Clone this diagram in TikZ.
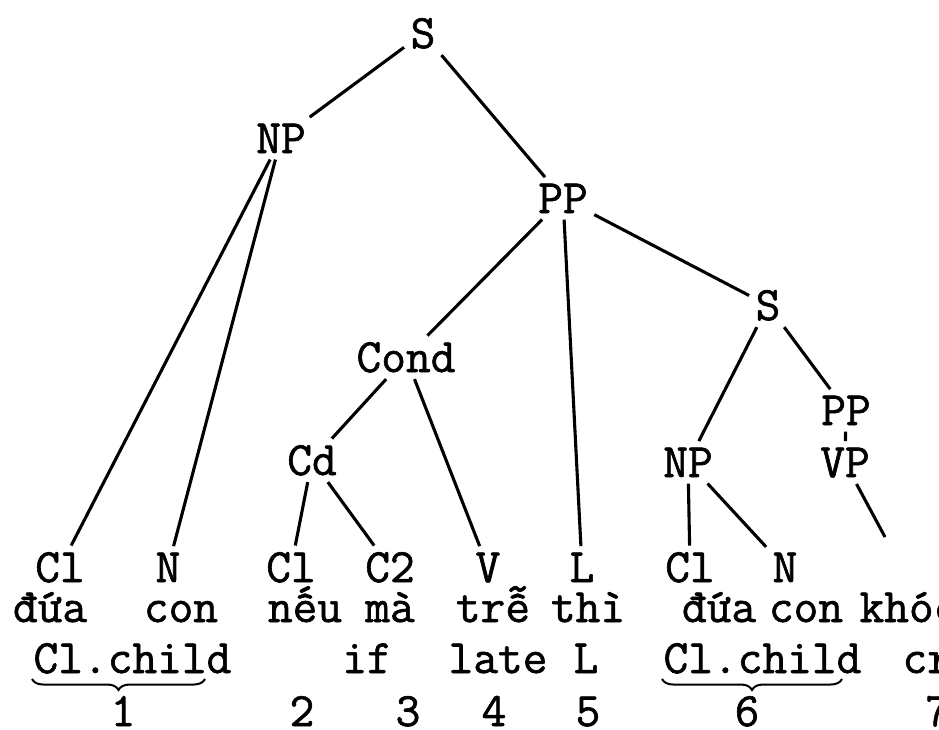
\documentclass[tikz,border=0pt]{standalone}
\usepackage{fontspec}
\newfontfamily\typew{Latin Modern Mono}[FakeBold=1.3]
\usetikzlibrary{decorations.pathreplacing}
\begin{document}
\begin{tikzpicture}[x=1pt,y=-1pt,line width=3.1pt,
		lbl/.style={font=\typew\fontsize{48}{56}\selectfont,anchor=base,inner sep=5pt},
		brc/.style={decorate,decoration={brace,mirror,amplitude=11pt},line width=2pt}]
		\useasboundingbox (0,0) rectangle (939,729);
		\clip (0,0) rectangle (939,729);
		% upper part of the tree
		\node[lbl] (s) at (423,48) {S};
		\node[lbl] (np) at (281,153) {NP};
		\node[lbl] (pp) at (563,213) {PP};
		\node[lbl] (ss) at (768,320) {S};
		\node[lbl] (cond) at (406,372) {Cond};
		\node[lbl] (ppb) at (846,425) {PP};
		\node[lbl] (cd) at (312,475) {Cd};
		\node[lbl] (npb) at (688,477) {NP};
		\node[lbl] (vp) at (845,477) {VP};
		
		% categories
		\node[lbl] (cla) at (60,582) {Cl};
		\node[lbl] (na) at (168,582) {N};
		\node[lbl] (clb) at (291,582) {Cl};
		\node[lbl] (ctwo) at (390,582) {C2};
		\node[lbl] (v) at (488,582) {V};
		\node[lbl] (l) at (582,582) {L};
		\node[lbl] (clc) at (690,582) {Cl};
		\node[lbl] (nc) at (785,582) {N};
		\coordinate (vend) at (885,537);
		
		% words
		\node[lbl] (wa) at (50,622) {đứa};
		\node[lbl] (wb) at (181,622) {con};
		\node[lbl] (wc) at (305,622) {nếu};
		\node[lbl] (wd) at (390,622) {mà};
		\node[lbl] (we) at (493,622) {trễ};
		\node[lbl] (wf) at (588,622) {thì};
		\node[lbl] (wg) at (719,622) {đứa};
		\node[lbl] (wh) at (806,622) {con};
		\node[lbl,anchor=base west] (wi) at (853,622) {khóc};
		
		% glosses
		\node[lbl,anchor=base west] (ga) at (27,673) {Cl.child};
		\node[lbl] (gb) at (367,673) {if};
		\node[lbl] (gc) at (498,673) {late};
		\node[lbl] (gd) at (586,673) {L};
		\node[lbl,anchor=base west] (ge) at (657,673) {Cl.child};
		\node[lbl,anchor=base west] (gf) at (896,673) {cry};
		
		\coordinate (bal) at (32,679);
		\coordinate (bar) at (205,679);
		\coordinate (bbl) at (662,679);
		\coordinate (bbr) at (842,679);
		\draw[brc] (bal)--(bar);
		\draw[brc] (bbl)--(bbr);
		
		% numbers
		\node[lbl] (ka) at (123,726) {1};
		\node[lbl] (kb) at (302,726) {2};
		\node[lbl] (kc) at (408,726) {3};
		\node[lbl] (kd) at (494,726) {4};
		\node[lbl] (ke) at (588,726) {5};
		\node[lbl] (kf) at (747,726) {6};
		\node[lbl,anchor=base west] (kg) at (919,726) {7};
		
		% branches
		\draw (s)--(np);
		\draw (s)--(pp);
		\draw (np)--(cla);
		\draw (np)--(na);
		\draw (pp)--(cond);
		\draw (pp)--(l);
		\draw (pp)--(ss);
		\draw (cond)--(cd);
		\draw (cond)--(v);
		\draw (cd)--(clb);
		\draw (cd)--(ctwo);
		\draw (ss)--(npb);
		\draw (ss)--(ppb);
		\draw (ppb)--(vp);
		\draw (vp)--(vend);
		\draw (npb)--(clc);
		\draw (npb)--(nc);
\end{tikzpicture}
\end{document}
